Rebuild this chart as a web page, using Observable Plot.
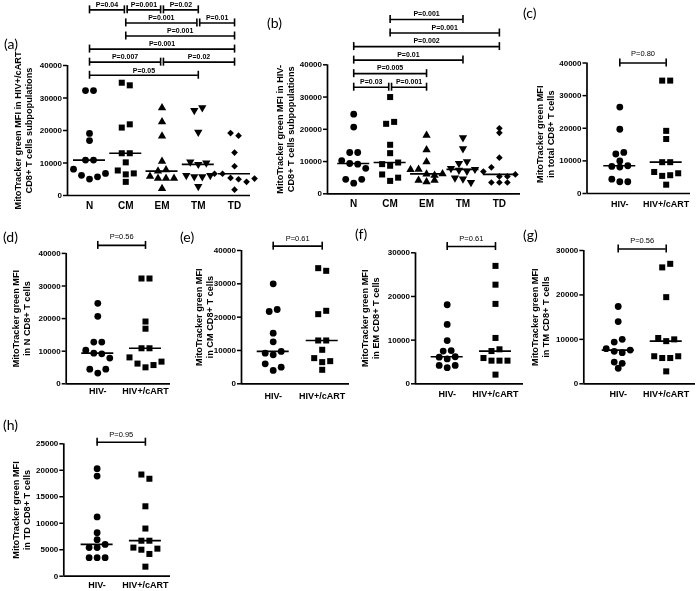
<!DOCTYPE html>
<html><head><meta charset="utf-8">
<script src="https://cdn.jsdelivr.net/npm/d3@7"></script>
<script src="https://cdn.jsdelivr.net/npm/@observablehq/plot@0.6"></script>
<style>
html,body{margin:0;padding:0;background:#fff;}
#fig{position:relative;width:700px;height:591px;overflow:hidden;background:#fff;}
#fig svg{position:absolute;left:0;top:0;will-change:transform;}
.lab{position:absolute;font-family:Lato,"Open Sans",sans-serif;font-size:14px;line-height:17px;color:#000;}
</style></head><body><div id="fig"></div>
<script>
// ---------- data ----------
const subsets = ["N", "CM", "EM", "TM", "TD"];
const groups = ["HIV-", "HIV+/cART"];

// MitoTracker green MFI, HIV- donors
const hivNegN     = [24700, 20700, 12800, 12800, 10300, 9400, 9200, 7900, 4500, 3300, 4500];
const hivNegCM    = [30000, 21700, 22300, 15200, 12600, 9200, 8700, 9700, 6000, 4000, 5000];
const hivNegEM    = [18100, 13600, 9900, 7500, 7600, 6100, 5700, 6200, 4200, 3700, 4200];
const hivNegTM    = [17400, 14000, 9400, 10000, 7900, 7300, 7000, 7600, 4900, 4600, 3500];
const hivNegTD    = [18900, 20300, 11200, 6900, 8200, 5400, 5400, 6000, 3500, 3500, 3500];
const hivNegTotal = [26500, 19700, 12100, 12600, 10000, 8300, 8100, 8500, 4400, 3600, 3600];

// MitoTracker green MFI, HIV+/cART donors
const hivPosN     = [32300, 32300, 19100, 16900, 10900, 10900, 8100, 6200, 5050, 5750, 6800];
const hivPosCM    = [34700, 33900, 20900, 21900, 13000, 13000, 10200, 7700, 6500, 6800, 4200];
const hivPosEM    = [27000, 22700, 18300, 10500, 7500, 7900, 5900, 5300, 5300, 5300, 2100];
const hivPosTM    = [26200, 27000, 19500, 10300, 9600, 10000, 6200, 5800, 5800, 6200, 2800];
const hivPosTD    = [19200, 18400, 13200, 9000, 6700, 6700, 5400, 5000, 4200, 5200, 1800];
const hivPosTotal = [34600, 34600, 19200, 16700, 9600, 9600, 6600, 5400, 5600, 6200, 2700];

// pairwise comparisons (row 1 = lowest bracket)
const bracketsA = [
  {from: "N",  to: "TM", p: "P=0.05",  row: 1},
  {from: "N",  to: "EM", p: "P=0.007", row: 2},
  {from: "EM", to: "TD", p: "P=0.02",  row: 2},
  {from: "N",  to: "TD", p: "P=0.001", row: 3},
  {from: "CM", to: "TD", p: "P=0.001", row: 4},
  {from: "CM", to: "TM", p: "P=0.001", row: 5},
  {from: "TM", to: "TD", p: "P=0.01",  row: 5},
  {from: "N",  to: "CM", p: "P=0.04",  row: 6},
  {from: "CM", to: "EM", p: "P=0.001", row: 6},
  {from: "EM", to: "TM", p: "P=0.02",  row: 6}
];
const bracketsB = [
  {from: "N",  to: "CM", p: "P=0.03",  row: 1},
  {from: "CM", to: "EM", p: "P=0.001", row: 1},
  {from: "N",  to: "EM", p: "P=0.005", row: 2},
  {from: "N",  to: "TM", p: "P=0.01",  row: 3},
  {from: "N",  to: "TD", p: "P=0.002", row: 4},
  {from: "CM", to: "TD", p: "P=0.001", row: 5},
  {from: "CM", to: "TM", p: "P=0.001", row: 6}
];
const pTotal = "P=0.80", pN = "P=0.56", pCM = "P=0.61", pEM = "P=0.61", pTM = "P=0.56", pTD = "P=0.95";

const ticks40 = [0, 10000, 20000, 30000, 40000];
const ticks30 = [0, 10000, 20000, 30000];
const ticks25 = [0, 5000, 10000, 15000, 20000, 25000];

// ---------- drawing ----------
const W = 700, H = 591;
const fig = document.getElementById("fig");

function dotLayout(values, ci, kY, kX, step, gap) {
  const order = d3.range(values.length).sort((a, b) => values[b] - values[a] || a - b);
  const rows = [];
  let cur = null, prev = null;
  for (const i of order) {
    if (cur && (values[prev] - values[i]) * kY <= gap) cur.push(i);
    else { cur = [i]; rows.push(cur); }
    prev = i;
  }
  const out = [];
  for (const row of rows) {
    row.sort((a, b) => a - b);
    row.forEach((i, k) => out.push({x: ci + (k - (row.length - 1) / 2) * step / kX, y: values[i]}));
  }
  return out;
}

function render(p) {
  const kY = (p.bottom - p.top) / p.yMax;
  const kX = (p.right - p.left) / (p.xDomain[1] - p.xDomain[0]);
  const marks = [];
  marks.push(Plot.ruleY([0], {strokeWidth: 1.7}));
  marks.push(Plot.ruleX([p.xDomain[0]], {strokeWidth: 1.7}));
  marks.push(Plot.axisY({ticks: p.yTicks, tickFormat: d => String(d), tickSize: 4, tickPadding: 1.5,
    fontSize: 8, fontWeight: "bold", strokeWidth: 1.5, label: null}));
  marks.push(Plot.axisX({ticks: d3.range(p.cats.length), tickFormat: i => p.cats[i], tickSize: 0,
    tickPadding: p.xPad, fontSize: p.xFont, fontWeight: "bold", label: null}));
  marks.push(Plot.text([p.title], {text: d => d, frameAnchor: "left", textAnchor: "middle", lineAnchor: "middle",
    rotate: -90, dx: p.titleDx, dy: p.titleDy || 0, fontSize: 9.2, fontWeight: "bold", lineHeight: 1.2}));
  const half = 16 / kX;
  marks.push(Plot.ruleY(p.values.map((v, i) => ({i, m: d3.median(v)})),
    {x1: d => d.i - half, x2: d => d.i + half, y: "m", strokeWidth: 1.7}));
  p.values.forEach((v, i) => {
    marks.push(Plot.dot(dotLayout(v, i, kY, kX, 8, 4.5), {x: "x", y: "y", symbol: p.symbols[i],
      rotate: p.rotates ? p.rotates[i] : 0, r: p.radii ? p.radii[i] : 3.4, fill: "black", stroke: "none"}));
  });
  const capU = 4 / kY, inset = 1.4 / kX;
  const br = p.brackets.map(b => {
    const i1 = p.cats.indexOf(b.from), i2 = p.cats.indexOf(b.to);
    const tl = p.brackets.some(o => o !== b && o.row === b.row && o.to === b.from);
    const tr = p.brackets.some(o => o !== b && o.row === b.row && o.from === b.to);
    return {x1: i1 + (tl ? inset : 0), x2: i2 - (tr ? inset : 0), y: p.bracketY(b.row), p: b.p};
  });
  marks.push(Plot.ruleY(br, {x1: "x1", x2: "x2", y: "y", strokeWidth: 1.6}));
  marks.push(Plot.ruleX(br.flatMap(b => [{x: b.x1, y: b.y}, {x: b.x2, y: b.y}]),
    {x: "x", y1: d => d.y - capU, y2: d => d.y + capU, strokeWidth: 1.6}));
  marks.push(Plot.text(br, {x: d => (d.x1 + d.x2) / 2, y: "y", text: "p", dy: p.pDy,
    fontSize: p.pFont, fontWeight: p.pWeight, fill: "black"}));
  const svg = Plot.plot({
    width: W, height: H,
    marginLeft: p.left, marginRight: W - p.right, marginTop: p.top, marginBottom: H - p.bottom,
    x: {type: "linear", domain: p.xDomain},
    y: {type: "linear", domain: [0, p.yMax]},
    style: {background: "transparent", overflow: "visible", fontFamily: "'Liberation Sans', Arial, sans-serif",
      position: "absolute", left: "0px", top: "0px", maxWidth: "none", color: "black"},
    marks
  });
  fig.appendChild(svg);
}

const sym5 = ["circle", "square", "triangle", "triangle", "diamond2"];
const rot5 = [0, 0, 0, 180, 0];
const rad5 = [3.4, 3.4, 3.1, 3.1, 3.0];
const sym2 = ["circle", "square"];
const one = (from, to, p) => [{from, to, p, row: 1}];

// (a)
render({left: 67, right: 250, top: 65, bottom: 195, yMax: 40000, yTicks: ticks40,
  xDomain: [-0.607, 4.44], cats: subsets,
  values: [hivPosN, hivPosCM, hivPosEM, hivPosTM, hivPosTD],
  symbols: sym5, rotates: rot5, radii: rad5, xFont: 10, xPad: 6,
  title: "MitoTracker green MFI in HIV+/cART\nCD8+ T cells subpopulations", titleDx: -44.5,
  brackets: bracketsA, bracketY: r => 37000 + (r - 1) * 4025, pDy: -5, pFont: 7, pWeight: "bold"});
// (b)
render({left: 327, right: 520, top: 64.3, bottom: 193.3, yMax: 40000, yTicks: ticks40,
  xDomain: [-0.72, 4.58], cats: subsets,
  values: [hivNegN, hivNegCM, hivNegEM, hivNegTM, hivNegTD],
  symbols: sym5, rotates: rot5, radii: rad5, xFont: 10, xPad: 6.5,
  title: "MitoTracker green MFI in HIV-\nCD8+ T cells subpopulations", titleDx: -42.3,
  brackets: bracketsB, bracketY: r => 33050 + (r - 1) * 4200, pDy: -5.5, pFont: 7, pWeight: "bold"});
// (c)
render({left: 586.5, right: 690, top: 62.5, bottom: 193, yMax: 40000, yTicks: ticks40,
  xDomain: [-0.707, 1.524], cats: groups, values: [hivNegTotal, hivPosTotal],
  symbols: sym2, xFont: 9, xPad: 7,
  title: "MitoTracker green MFI\nin total CD8+ T cells", titleDx: -42, titleDy: 6,
  brackets: one("HIV-", "HIV+/cART", pTotal), bracketY: r => 40000, pDy: -9, pFont: 7.5, pWeight: "normal"});
// (d)
render({left: 65.7, right: 170, top: 252.9, bottom: 383.3, yMax: 40000, yTicks: ticks40,
  xDomain: [-0.662, 1.524], cats: groups, values: [hivNegN, hivPosN],
  symbols: sym2, xFont: 9, xPad: 4,
  title: "MitoTracker green MFI\nin N CD8+ T cells", titleDx: -45,
  brackets: one("HIV-", "HIV+/cART", pN), bracketY: r => 42450, pDy: -9, pFont: 7.5, pWeight: "normal"});
// (e)
render({left: 241, right: 349, top: 250, bottom: 383.3, yMax: 40000, yTicks: ticks40,
  xDomain: [-0.647, 1.557], cats: groups, values: [hivNegCM, hivPosCM],
  symbols: sym2, xFont: 9, xPad: 9,
  title: "MitoTracker green MFI\nin CM CD8+ T cells", titleDx: -38,
  brackets: one("HIV-", "HIV+/cART", pCM), bracketY: r => 41300, pDy: -8, pFont: 7.5, pWeight: "normal"});
// (f)
render({left: 415, right: 523, top: 252.3, bottom: 383.3, yMax: 30000, yTicks: ticks30,
  xDomain: [-0.656, 1.58], cats: groups, values: [hivNegEM, hivPosEM],
  symbols: sym2, xFont: 9, xPad: 7,
  title: "MitoTracker green MFI\nin EM CD8+ T cells", titleDx: -46,
  brackets: one("HIV-", "HIV+/cART", pEM), bracketY: r => 31440, pDy: -8, pFont: 7.5, pWeight: "normal"});
// (g)
render({left: 583.3, right: 695, top: 250, bottom: 383.3, yMax: 30000, yTicks: ticks30,
  xDomain: [-0.717, 1.61], cats: groups, values: [hivNegTM, hivPosTM],
  symbols: sym2, xFont: 9, xPad: 7,
  title: "MitoTracker green MFI\nin TM CD8+ T cells", titleDx: -44,
  brackets: one("HIV-", "HIV+/cART", pTM), bracketY: r => 30340, pDy: -8, pFont: 7.5, pWeight: "normal"});
// (h)
render({left: 63.3, right: 170, top: 443.3, bottom: 575.7, yMax: 25000, yTicks: ticks25,
  xDomain: [-0.69, 1.52], cats: groups, values: [hivNegTD, hivPosTD],
  symbols: sym2, xFont: 9, xPad: 5.5,
  title: "MitoTracker green MFI\nin TD CD8+ T cells", titleDx: -43,
  brackets: one("HIV-", "HIV+/cART", pTD), bracketY: r => 25300, pDy: -8, pFont: 7.5, pWeight: "normal"});

// panel letters
const letters = [["(a)", 4, 35], ["(b)", 267, 14], ["(c)", 523, 4], ["(d)", 3, 228],
                 ["(e)", 180, 228], ["(f)", 355, 225], ["(g)", 523, 226], ["(h)", 3, 416]];
for (const [t, x, y] of letters) {
  const d = document.createElement("div");
  d.className = "lab"; d.textContent = t;
  d.style.left = x + "px"; d.style.top = y + "px";
  fig.appendChild(d);
}
</script>
</body></html>
